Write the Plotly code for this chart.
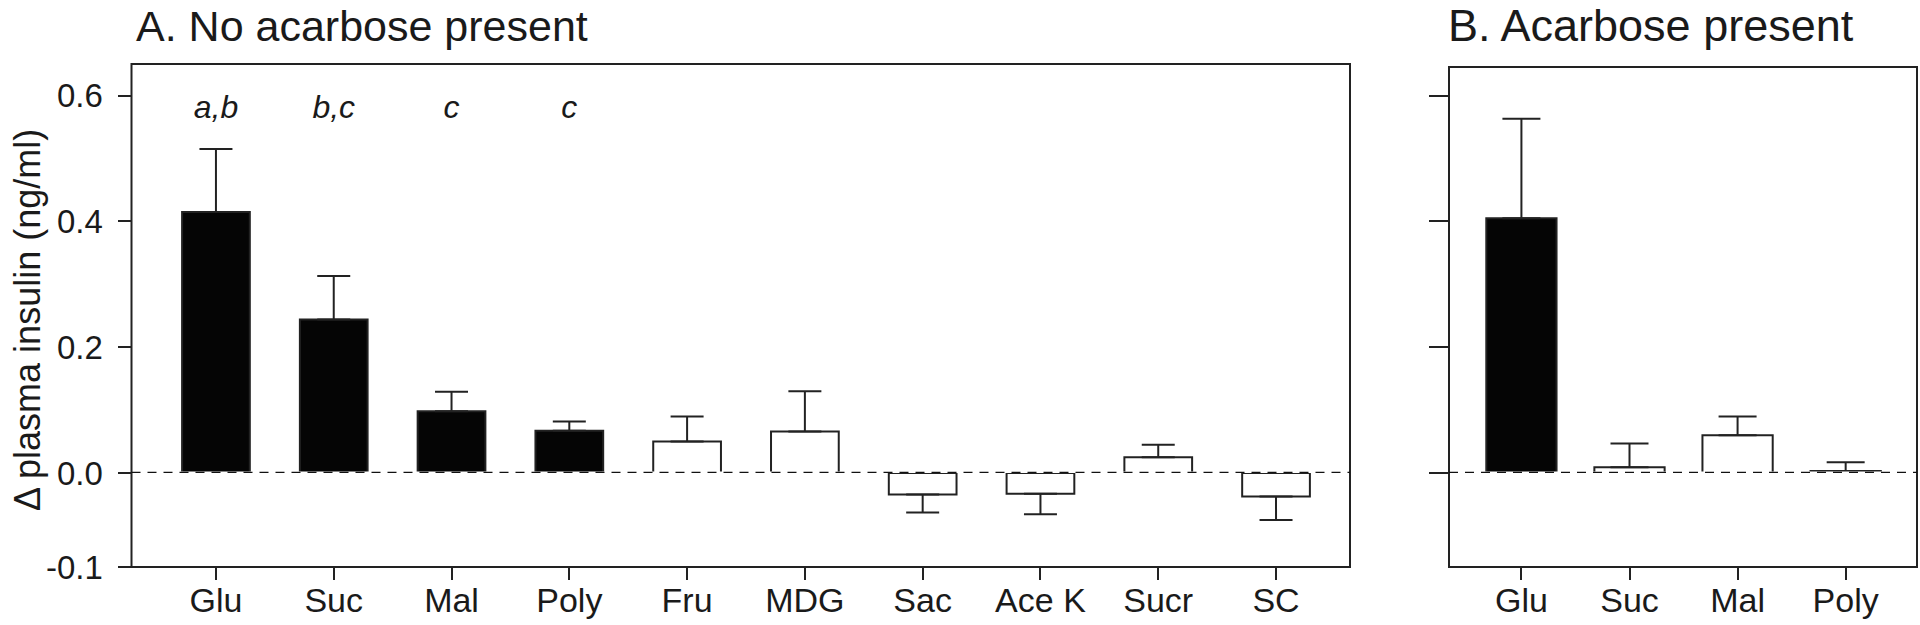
import plotly.graph_objects as go

# ---------------- data ----------------
cats_A = ["Glu", "Suc", "Mal", "Poly", "Fru", "MDG", "Sac", "Ace K", "Sucr", "SC"]
mean_A = [0.415, 0.244, 0.098, 0.067, 0.050, 0.066, -0.023, -0.022, 0.025, -0.025]
sem_A = [0.100, 0.069, 0.031, 0.015, 0.040, 0.064, 0.019, 0.022, 0.020, 0.025]
filled_A = [True, True, True, True, False, False, False, False, False, False]
letters_A = ["a,b", "b,c", "c", "c", "", "", "", "", "", ""]

cats_B = ["Glu", "Suc", "Mal", "Poly"]
mean_B = [0.405, 0.009, 0.060, 0.003]
sem_B = [0.158, 0.038, 0.030, 0.014]
filled_B = [True, False, False, False]

yticks_pos = [0.0, 0.2, 0.4, 0.6]
yticks_pos_text = ["0.0", "0.2", "0.4", "0.6"]
ytick_neg = [-0.1]
ytick_neg_text = ["-0.1"]
title_A = "A. No acarbose present"
title_B = "B. Acarbose present"
ytitle = "Δ plasma insulin (ng/ml)"
letter_y = 0.577

# ---------------- layout geometry (px) ----------------
W, H = 1920, 625
FONT = "Arial, Liberation Sans, Helvetica, sans-serif"
INK = "#222222"
TXT = "#1a1a1a"


def px_x(p):
    return p / W


def px_y(p):
    return 1 - p / H


PPU = 629.0  # px per unit on the positive part of the axis
A_dom = [px_x(131.5), px_x(1350)]
B_dom = [px_x(1449), px_x(1917)]
yA_top, yB_top, y_zero, y_bot = 64.0, 67.0, 473.0, 567.0
upA_dom = [px_y(y_zero), px_y(yA_top)]
upB_dom = [px_y(y_zero), px_y(yB_top)]
lo_dom = [px_y(y_bot), px_y(y_zero)]
upA_range = [0, (y_zero - yA_top) / PPU]
upB_range = [0, (y_zero - yB_top) / PPU]
lo_range = [-0.1, 0]

fig = go.Figure()


def add_bars(cats, means, sems, filled, xa, ya_up, ya_lo, width, capw):
    groups = {}
    for c, m, s, f in zip(cats, means, sems, filled):
        key = (m >= 0, f)
        groups.setdefault(key, []).append((c, m, s))
    for (pos, f), items in groups.items():
        xs = [i[0] for i in items]
        ys = [i[1] for i in items]
        es = [i[2] for i in items]
        zeros = [0] * len(items)
        err = dict(type="data", symmetric=False,
                   array=es if pos else zeros,
                   arrayminus=zeros if pos else es,
                   color=INK, thickness=2, width=capw)
        fig.add_trace(go.Bar(
            x=xs, y=ys, xaxis=xa, yaxis=ya_up if pos else ya_lo,
            width=width,
            marker=dict(color="#050505" if f else "white",
                        line=dict(color=INK, width=2)),
            error_y=err, showlegend=False, hoverinfo="x+y"))


add_bars(cats_A, mean_A, sem_A, filled_A, "x", "y", "y2", 0.575, 16.5)
add_bars(cats_B, mean_B, sem_B, filled_B, "x2", "y3", "y4", 0.65, 19)
# keep the lower panel-B subplot alive
fig.add_trace(go.Scatter(x=[cats_B[0]], y=[None], xaxis="x2", yaxis="y4",
                         showlegend=False, hoverinfo="skip"))

# significance letters
fig.add_trace(go.Scatter(
    x=[c for c, l in zip(cats_A, letters_A) if l],
    y=[letter_y for l in letters_A if l],
    text=["<i>%s</i>" % l for l in letters_A if l],
    mode="text", textfont=dict(family=FONT, size=32, color=TXT),
    xaxis="x", yaxis="y", showlegend=False, hoverinfo="skip"))

tickfont = dict(family=FONT, size=33, color=TXT)
catfont = dict(family=FONT, size=34, color=TXT)

common_x = dict(type="category", showgrid=False, zeroline=False, showline=False,
                ticks="outside", ticklen=12, tickwidth=2, tickcolor=INK,
                tickfont=catfont, automargin=False, ticklabelstandoff=-9)
common_y = dict(showgrid=False, zeroline=False, showline=False,
                tickwidth=2, tickcolor=INK, tickfont=tickfont, automargin=False)

fig.update_layout(
    width=W, height=H,
    margin=dict(l=0, r=0, t=0, b=0),
    paper_bgcolor="white", plot_bgcolor="white",
    barmode="overlay",
    font=dict(family=FONT, color=INK),
    xaxis=dict(domain=A_dom, anchor="y2", categoryorder="array",
               categoryarray=cats_A, range=[-0.717, 9.628], **common_x),
    yaxis=dict(domain=upA_dom, anchor="x", range=upA_range, tickvals=yticks_pos,
               ticktext=yticks_pos_text, ticks="outside", ticklen=13,
               ticklabelstandoff=8, **common_y),
    yaxis2=dict(domain=lo_dom, anchor="x", range=lo_range, tickvals=ytick_neg,
                ticktext=ytick_neg_text, ticks="outside", ticklen=13,
                ticklabelstandoff=8, **common_y),
    xaxis2=dict(domain=B_dom, anchor="y4", categoryorder="array",
                categoryarray=cats_B, range=[-0.67, 3.66], **common_x),
    yaxis3=dict(domain=upB_dom, anchor="x2", range=upB_range, tickvals=yticks_pos,
                ticks="outside", ticklen=19, showticklabels=False, **common_y),
    yaxis4=dict(domain=lo_dom, anchor="x2", range=lo_range, tickvals=[],
                ticks="", showticklabels=False, **common_y),
)

# frames
for dom, top in ((A_dom, upA_dom[1]), (B_dom, upB_dom[1])):
    fig.add_shape(type="rect", xref="paper", yref="paper",
                  x0=dom[0], x1=dom[1], y0=lo_dom[0], y1=top,
                  line=dict(color=INK, width=2), layer="above")

# zero reference lines (open base of bars)
for xr, yr in (("x domain", "y"), ("x2 domain", "y3")):
    fig.add_shape(type="line", xref=xr, yref=yr, x0=0.003, x1=0.997, y0=0, y1=0,
                  line=dict(color="white", width=3), layer="above")
    fig.add_shape(type="line", xref=xr, yref=yr, x0=0, x1=1, y0=0, y1=0,
                  line=dict(color="#111111", width=2.5, dash="9px,7px"),
                  layer="above")

# titles
fig.add_annotation(text=title_A, xref="paper", yref="paper", x=px_x(134),
                   y=px_y(26), xanchor="left", yanchor="middle", showarrow=False,
                   font=dict(family=FONT, size=43, color=TXT))
fig.add_annotation(text=title_B, xref="paper", yref="paper", x=px_x(1446),
                   y=px_y(26), xanchor="left", yanchor="middle", showarrow=False,
                   font=dict(family=FONT, size=45, color=TXT))
fig.add_annotation(text=ytitle, xref="paper", yref="paper", x=px_x(27),
                   y=px_y(320), xanchor="center", yanchor="middle", textangle=-90,
                   showarrow=False, font=dict(family=FONT, size=36, color=TXT))

fig.write_html(
    "out.html",
    config={"displayModeBar": False},
    post_script="document.body.style.margin='0px';"
                "document.body.style.overflow='hidden';",
)
